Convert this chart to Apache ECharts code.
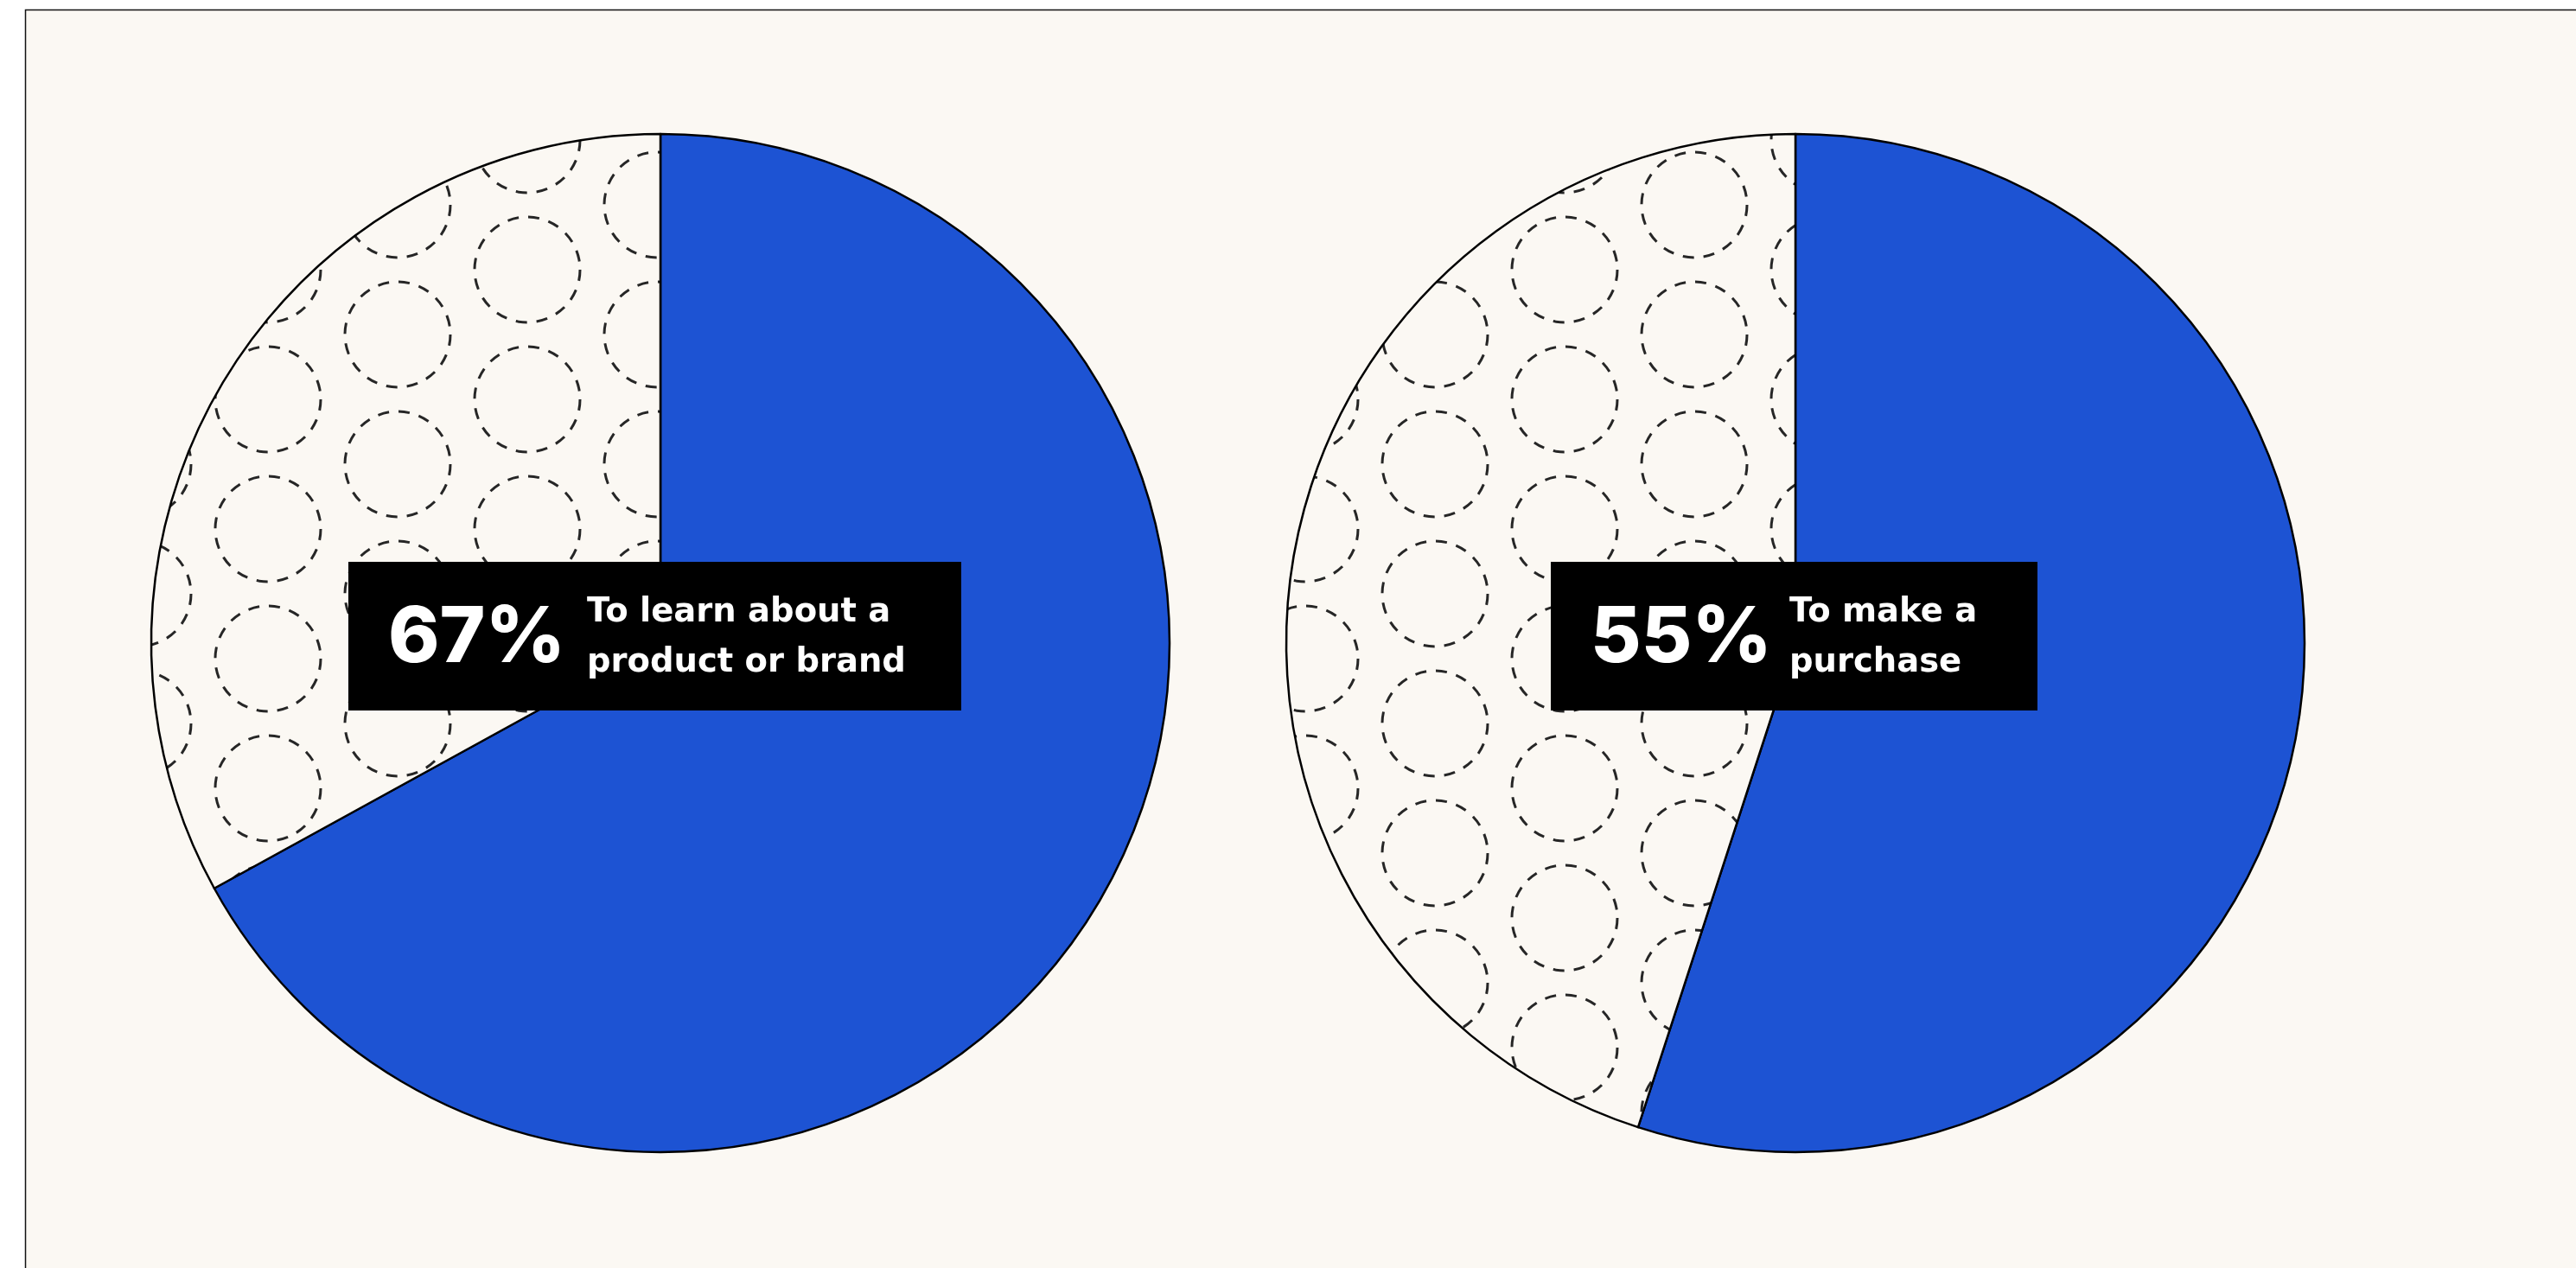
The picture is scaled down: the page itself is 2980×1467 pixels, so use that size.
<!DOCTYPE html>
<html>
<head>
<meta charset="utf-8">
<script src="https://cdn.jsdelivr.net/npm/echarts@6/dist/echarts.min.js"></script>
<style>
  html, body { margin: 0; padding: 0; background: #ffffff; }
  #chart { position: absolute; left: 0; top: 0; width: 2980px; height: 1467px; }
</style>
</head>
<body>
<div id="chart"></div>
<script>
// ---- data ----
const categories = ['Yes', 'Other'];
const pie1Values = [67, 33];
const pie2Values = [55, 45];
const pctLabels = ['67%', '55%'];
const captions = [['To learn about a', 'product or brand'], ['To make a', 'purchase']];

// ---- layout / style ----
const BG = '#fbf8f3';
const BLUE = '#1d53d3';
const NUM_FONT = 'Inter, "Open Sans", "Noto Sans", sans-serif';
const CAP_FONT = '"DejaVu Sans", Inter, sans-serif';
const pieCenters = [[764, 744], [2077, 744]];
const pieRadius = 589;
const boxes = [
  { left: 403, top: 650, width: 709, height: 172 },
  { left: 1794, top: 650, width: 563, height: 172 }
];
const numOffsetX = 46;
const capOffsetX = 276;

// dashed-circle pattern tile
function makePattern() {
  const w = 300, h = 150, r = 61;
  const c = document.createElement('canvas');
  c.width = w; c.height = h;
  const ctx = c.getContext('2d');
  ctx.fillStyle = BG;
  ctx.fillRect(0, 0, w, h);
  ctx.strokeStyle = '#262626';
  ctx.lineWidth = 3;
  ctx.setLineDash([13, 11]);
  const centers = [[160, 87], [10, 12]];
  centers.forEach(([x, y]) => {
    for (let dx = -w; dx <= w; dx += w) {
      for (let dy = -h; dy <= h; dy += h) {
        ctx.beginPath();
        ctx.arc(x + dx, y + dy, r, 0, Math.PI * 2);
        ctx.stroke();
      }
    }
  });
  return c;
}
const patternCanvas = makePattern();

function pieSeries(values, center) {
  return {
    type: 'pie',
    center: center,
    radius: pieRadius,
    startAngle: 90,
    clockwise: true,
    silent: true,
    animation: false,
    label: { show: false },
    labelLine: { show: false },
    emphasis: { disabled: true },
    itemStyle: { borderColor: '#000', borderWidth: 2.5 },
    data: values.map((v, i) => ({
      name: categories[i],
      value: v,
      itemStyle: {
        color: i === 0 ? BLUE : { image: patternCanvas, repeat: 'repeat' }
      }
    }))
  };
}

const graphics = [
  {
    type: 'rect',
    z: -10,
    silent: true,
    shape: { x: 29.5, y: 11.5, width: 3100, height: 1600 },
    style: { fill: BG, stroke: '#111', lineWidth: 1.5 }
  }
];
boxes.forEach((b, i) => {
  const cy = b.top + b.height / 2;
  graphics.push({
    type: 'rect', z: 100, silent: true,
    shape: { x: b.left, y: b.top, width: b.width, height: b.height },
    style: { fill: '#000' }
  });
  graphics.push({
    type: 'text', z: 101, silent: true,
    x: b.left + numOffsetX, y: cy + 3,
    style: {
      text: pctLabels[i], fill: '#fff',
      font: '800 90px ' + NUM_FONT,
      align: 'left', verticalAlign: 'middle'
    }
  });
  graphics.push({
    type: 'text', z: 101, silent: true,
    x: b.left + capOffsetX, y: cy + 2,
    style: {
      text: captions[i].join('\n'), fill: '#fff',
      font: 'bold 38.5px ' + CAP_FONT, lineHeight: 58,
      align: 'left', verticalAlign: 'middle'
    }
  });
});

const chart = echarts.init(document.getElementById('chart'), null, { renderer: 'canvas' });
chart.setOption({
  backgroundColor: '#ffffff',
  animation: false,
  graphic: graphics,
  series: [pieSeries(pie1Values, pieCenters[0]), pieSeries(pie2Values, pieCenters[1])]
});
</script>
</body>
</html>
